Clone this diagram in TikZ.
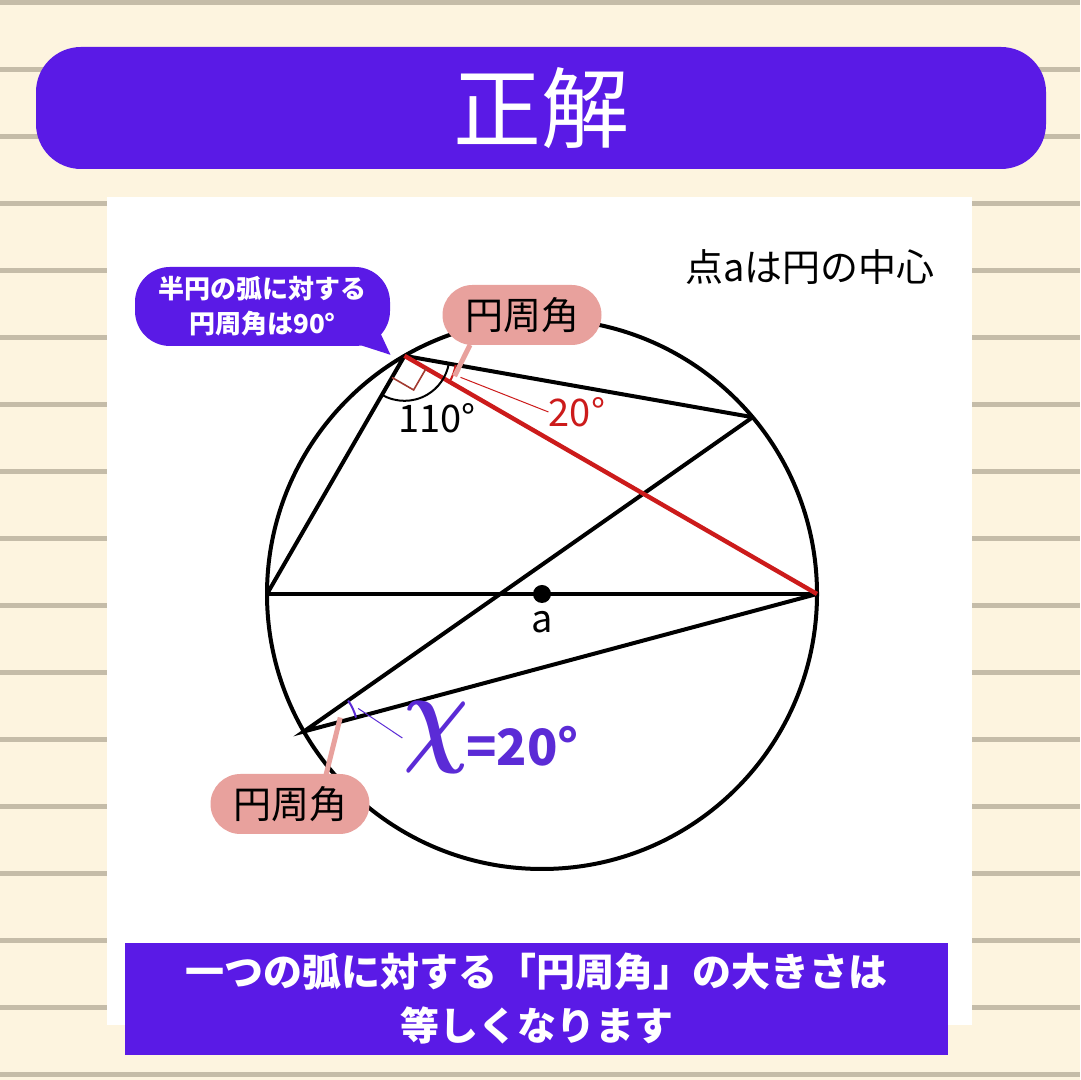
\documentclass[tikz,border=0pt]{standalone}
\usepackage{fontspec}
\setmainfont{Noto Sans CJK JP}
\usepackage{tikz}
\usetikzlibrary{positioning,calc}
\definecolor{cream}{HTML}{FDF4DF}
\definecolor{ruling}{HTML}{C5BCA8}
\definecolor{violet}{HTML}{5A1AE6}
\definecolor{rose}{HTML}{E8A19D}
\definecolor{crimson}{HTML}{CC1B1B}
\definecolor{brick}{HTML}{A23A30}
\definecolor{xviolet}{HTML}{5B2BD6}
\tikzset{%
       banner/.style = { fill=violet, text=white },
        chord/.style = { line width=2pt, black },
     redchord/.style = { line width=2.2pt, crimson },
      pinktag/.style = { fill=rose, rounded corners=15pt, minimum width=79.5pt,
                         minimum height=30pt, font=\fontsize{19}{19}\selectfont },
      pointer/.style = { rose, line width=2.5pt },
       leader/.style = { line width=0.5pt },
    anglemark/.style = { line width=1pt },
       degree/.style = { font=\fontsize{19}{19}\selectfont, inner sep=0pt }
}

\begin{document}
\begin{tikzpicture}[x=0.5pt,y=0.5pt]
  % paper
  \useasboundingbox (0,0) rectangle (1080,1080);
  \fill[cream] (0,0) rectangle (1080,1080);
  \foreach \k in {0,...,16}
    \draw[ruling, line width=2.5pt] (0,1077-67*\k) -- (1080,1077-67*\k);

  \node[banner, rounded corners=22.5pt, minimum width=505pt, minimum height=61pt,
        font=\fontsize{44}{44}\selectfont] (title) at (541,972) {正解};
  \fill[white] (107,55) rectangle (972,883);

  % circle and chords
  \coordinate (a) at (542,486);
  \coordinate (p) at ($(a)+(120:275)$);
  \coordinate (q) at ($(a)+(40:275)$);
  \coordinate (r) at ($(a)+(0:275)$);
  \coordinate (l) at ($(a)+(180:275)$);
  \coordinate (s) at ($(a)+(210:275)$);

  \draw[chord] (a) circle (275);
  \draw[chord] (l) -- (r);
  \draw[chord] (p) -- (l);
  \draw[chord] (p) -- (q);
  \draw[chord] (q) -- (s) -- (r);
  \draw[redchord] (p) -- (r);
  \fill (a) circle (9);
  \node[degree] (alabel) at ($(a)+(0,-28)$) {a};
  \node[degree] (centre) at (810,813) {点aは円の中心};

  % angles at p
  \draw[anglemark] ($(p)+(-120:45)$) arc (-120:-10:45);
  \draw[brick, line width=0.8pt] ($(p)+(-30:25)$) -- ($(p)+(-30:25)+(-120:25)$)
    -- ($(p)+(-120:25)$);
  \draw[crimson, anglemark] ($(p)+(-30:52)$) arc (-30:-10:52);
  \node[degree] (obtuse) at (437,662) {110°};
  \node[degree, text=crimson] (twenty) at (577,668) {20°};
  \draw[crimson, leader] ($(p)+(-21:60)$) -- (twenty.west);

  % angle at s
  \draw[xviolet, anglemark] ($(s)+(15:54)$) arc (15:35:54);
  \node[text=xviolet, inner sep=0pt, font=\fontsize{20}{20}\selectfont\boldmath,
        xscale=2.2, yscale=2.7, transform shape] (xsym) at (436,342) {$\chi$};
  \node[anchor=west, text=xviolet, inner sep=0pt,
        font=\bfseries\fontsize{25}{25}\selectfont] (xeq) at (466,334) {=20°};
  \draw[xviolet, leader] ($(s)+(23:59)$) -- (xsym.west);

  % tags
  \draw[pointer] (470,735) -- ($(p)+(-22:54)$);
  \node[pinktag] (tagtop) at (522,765) {円周角};
  \draw[pointer] (326,305) -- ($(s)+(21:39)$);
  \node[pinktag] (tagbot) at (290,276) {円周角};

  % callout
  \fill[violet] (360,735) -- (378,752) -- ($(p)+(-14,1)$) -- cycle;
  \node[banner, rounded corners=17.5pt, minimum width=127.5pt, minimum height=39.5pt,
        align=center, font=\bfseries\fontsize{13}{17.5}\selectfont] (note)
    at (262.5,773.5) {半円の弧に対する\\円周角は90°};

  \node[banner, minimum width=411.5pt, minimum height=56pt, align=center,
        font=\bfseries\fontsize{19.5}{27}\selectfont] (summary)
    at (536.5,81) {一つの弧に対する「円周角」の大きさは\\等しくなります};
\end{tikzpicture}
\end{document}
